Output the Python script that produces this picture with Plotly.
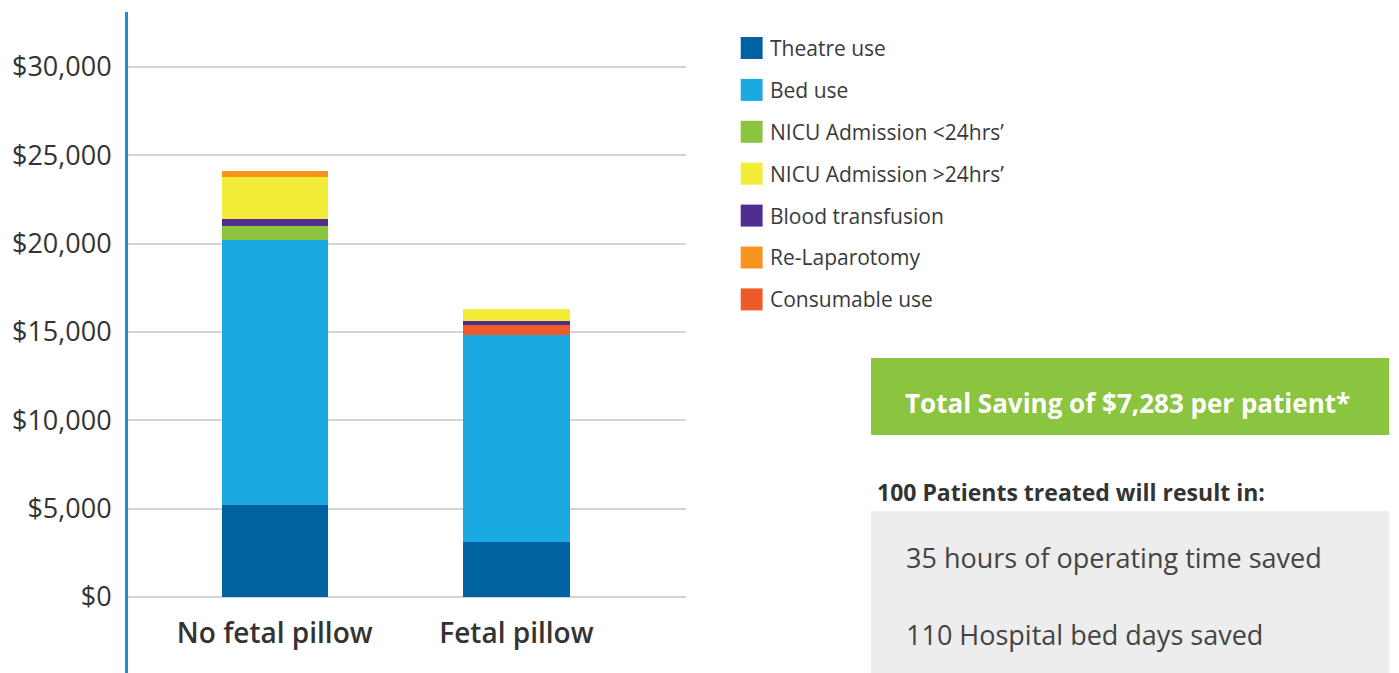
import plotly.graph_objects as go

categories = ["No fetal pillow", "Fetal pillow"]

# stacking order bottom -> top
series_names = ["Theatre use", "Bed use", "NICU Admission <24hrs’", "Consumable use",
                "Blood transfusion", "NICU Admission >24hrs’", "Re-Laparotomy"]
theatre_use = [5220, 3120]
bed_use = [14970, 11700]
nicu_lt24 = [800, 0]
consumable_use = [0, 570]
blood_transfusion = [400, 230]
nicu_gt24 = [2390, 660]
re_laparotomy = [340, 0]
series_values = [theatre_use, bed_use, nicu_lt24, consumable_use,
                 blood_transfusion, nicu_gt24, re_laparotomy]
series_colors = ["#0062a0", "#1ba9e1", "#8bc43f", "#ef5a2a", "#4f2d91", "#f2eb37", "#f7941d"]

legend_order = ["Theatre use", "Bed use", "NICU Admission <24hrs’", "NICU Admission >24hrs’",
                "Blood transfusion", "Re-Laparotomy", "Consumable use"]

tick_vals = [0, 5000, 10000, 15000, 20000, 25000, 30000]
tick_text = ["$0", "$5,000", "$10,000", "$15,000", "$20,000", "$25,000", "$30,000"]

saving_text = "Total Saving of $7,283 per patient*"
result_title = "100 Patients treated will result in:"
result_lines = ["35 hours of operating time saved", "110 Hospital bed days saved"]

W, H = 1399, 673
OFF = 8  # page body margin
L, R, T, B = 125 - OFF, 686 - OFF, 12 - OFF, 673 - OFF
FONT = "Open Sans"


def px(x):
    return (x - OFF - L) / (R - L)


def py(y):
    return (B - (y - OFF)) / (B - T)


fig = go.Figure()
for name, vals, col in zip(series_names, series_values, series_colors):
    fig.add_trace(go.Bar(x=[0, 1], y=vals, name=name, marker_color=col,
                         marker_line_width=0, width=0.44, showlegend=False))

shapes = []
annotations = []
color_of = dict(zip(series_names, series_colors))
for i, name in enumerate(legend_order):
    cy = 48 + i * 41.9
    shapes.append(dict(type="rect", xref="paper", yref="paper",
                       x0=px(741), x1=px(763), y0=py(cy + 11), y1=py(cy - 11),
                       fillcolor=color_of[name], line_width=0))
    annotations.append(dict(xref="paper", yref="paper", x=px(768), y=py(cy),
                            xanchor="left", yanchor="middle", showarrow=False,
                            text=name, font=dict(family=FONT, size=21, color="#3a3a3a")))

# green saving box
shapes.append(dict(type="rect", xref="paper", yref="paper", x0=px(872), x1=px(1393),
                   y0=py(435), y1=py(358), fillcolor="#8bc43f", line_width=0, layer="below"))
annotations.append(dict(xref="paper", yref="paper", x=px(1130), y=py(403),
                        xanchor="center", yanchor="middle", showarrow=False,
                        text="<b>" + saving_text + "</b>",
                        font=dict(family=FONT, size=26, color="white")))
annotations.append(dict(xref="paper", yref="paper", x=px(876), y=py(492),
                        xanchor="left", yanchor="middle", showarrow=False,
                        text="<b>" + result_title + "</b>",
                        font=dict(family=FONT, size=23, color="#333333")))
shapes.append(dict(type="rect", xref="paper", yref="paper", x0=px(872), x1=px(1393),
                   y0=py(680), y1=py(511), fillcolor="#ededed", line_width=0, layer="below"))
for j, line in enumerate(result_lines):
    annotations.append(dict(xref="paper", yref="paper", x=px(905), y=py(557 + j * 77),
                            xanchor="left", yanchor="middle", showarrow=False,
                            text=line, font=dict(family=FONT, size=27, color="#444444")))

y0px, y30px = 597 - OFF, 67 - OFF
per = (y0px - y30px) / 30000
ymin = -(B - y0px) / per
ymax = (y0px - T) / per

fig.update_layout(
    width=W, height=H,
    margin=dict(l=L, r=W - R, t=T, b=H - B),
    paper_bgcolor="white", plot_bgcolor="white",
    barmode="stack", bargap=0,
    showlegend=False,
    shapes=shapes, annotations=annotations,
    xaxis=dict(range=[(L - (272.5 - OFF)) / 243, (R - (272.5 - OFF)) / 243],
               tickvals=[0, 1], ticktext=categories,
               anchor="free", position=(B - y0px) / (B - T), showline=False, showgrid=False,
               zeroline=False, ticks="", ticklabelstandoff=17,
               tickfont=dict(family=FONT, size=28, color="#333333", weight=600)),
    yaxis=dict(range=[ymin, ymax], tickvals=tick_vals, ticktext=tick_text,
               showgrid=True, gridcolor="#d4d4d4", gridwidth=2, zeroline=False,
               showline=True, linecolor="#1e8fd6", linewidth=3, ticks="",
               ticklabelstandoff=8,
               tickfont=dict(family=FONT, size=27, color="#333333")),
)

fig.write_html("out.html")
